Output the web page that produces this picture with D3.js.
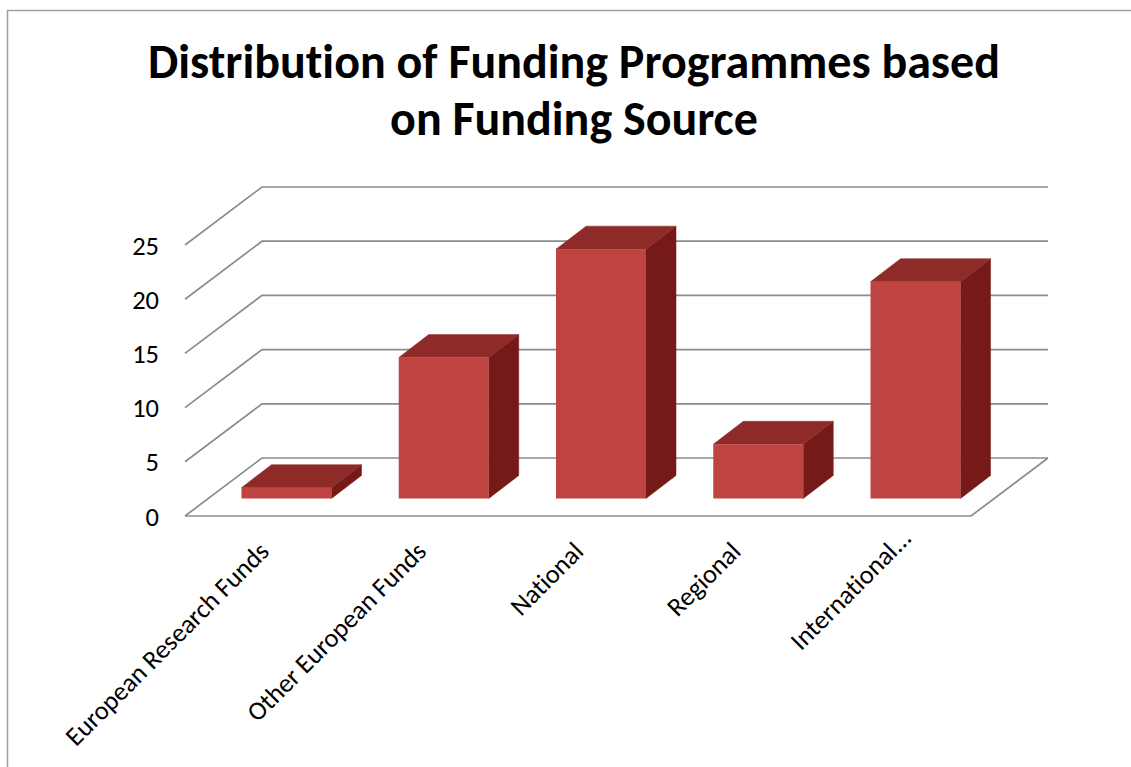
<!DOCTYPE html>
<html><head><meta charset="utf-8">
<script src="https://cdn.jsdelivr.net/npm/d3@7"></script>
<style>html,body{margin:0;padding:0;background:#fff}svg{display:block}text{font-variant-ligatures:none}</style></head>
<body><svg id="c" width="1131" height="767"></svg>
<script>
const categories=["European Research Funds","Other European Funds","National","Regional","International..."];
const values=[1,13,23,5,20];
const tickValues=[0,5,10,15,20,25];
const titleLines=["Distribution of Funding Programmes based","on Funding Source"];

const svg=d3.select("#c");
const font="Carlito, 'Open Sans', 'Noto Sans', sans-serif";
// border
svg.append("path").attr("d","M7.5,767V10.5H1131").attr("fill","none").attr("stroke","#a0a0a0").attr("stroke-width",1.5);
// title
svg.selectAll("text.t").data(titleLines).join("text").attr("class","t")
 .attr("x",574).attr("y",(d,i)=>77.5+i*57).attr("text-anchor","middle")
 .attr("font-family",font).attr("font-weight",700).attr("font-size",48).attr("fill","#000").text(d=>d);

const y=d3.scaleLinear().domain([0,25]).range([516,245]);
const dx=77,dy=-58;
const xFront=d3.scaleBand().domain(categories).range([208,994]).paddingInner(0.4277).paddingOuter(0.2128);
const grid="#8c8c8c";
// gridlines
tickValues.forEach(t=>{
  const yy=y(t);
  svg.append("path").attr("fill","none").attr("stroke",grid).attr("stroke-width",1.7)
    .attr("d",`M185,${yy}L${185+dx},${yy+dy}H1048`);
});
// floor
svg.append("path").attr("fill","none").attr("stroke",grid).attr("stroke-width",1.7)
  .attr("d",`M185,${y(0)}H971L1048,${y(0)+dy}`);
// bars
const depthX=30,depthY=-23,lift=17.5;
const g=svg.append("g");
categories.forEach((c,i)=>{
  const x0=xFront(c),w=xFront.bandwidth(),base=y(0)-lift,top=y(values[i])-lift;
  g.append("path").attr("fill","#751a18").attr("stroke","#751a18").attr("stroke-width",0.5).attr("d",`M${x0+w},${top}l${depthX},${depthY}V${base+depthY}l${-depthX},${-depthY}z`);
  g.append("path").attr("fill","#8e2b29").attr("stroke","#8e2b29").attr("stroke-width",0.5).attr("d",`M${x0},${top}l${depthX},${depthY}h${w}l${-depthX},${-depthY}z`);
  g.append("rect").attr("x",x0).attr("y",top).attr("width",w).attr("height",base-top).attr("fill","#be4341");
});
// y labels
svg.selectAll("text.y").data(tickValues).join("text").attr("class","y")
  .attr("x",159).attr("y",d=>y(d)+9.5).attr("text-anchor","end")
  .attr("font-family",font).attr("font-size",26.5).attr("fill","#000").text(d=>d);
// x labels
categories.forEach(c=>{
  const px=xFront(c)+xFront.bandwidth()/2-16;
  svg.append("text").attr("transform",`translate(${px},553) rotate(-45)`).attr("text-anchor","end")
   .attr("dx",c.endsWith("...")?19:0)
   .attr("font-family",font).attr("font-size",26.3).attr("fill","#000").text(c);
});
</script></body></html>
